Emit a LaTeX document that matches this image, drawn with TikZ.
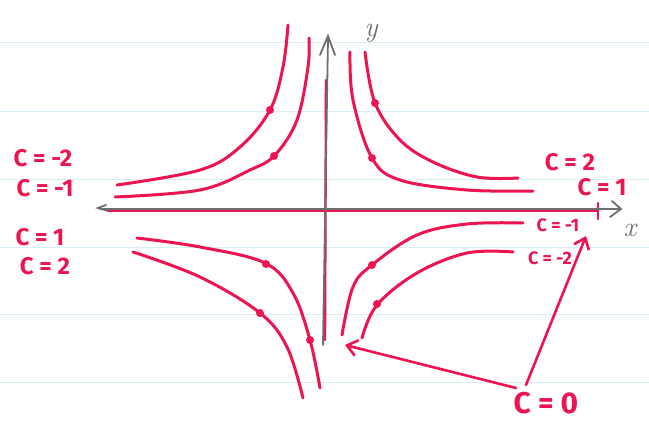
\documentclass[tikz,border=0pt]{standalone}
\usepackage{fontspec}
\setsansfont{Fira Sans}
\usetikzlibrary{arrows.meta}
\definecolor{ink}{HTML}{EC1552}
\definecolor{pencil}{HTML}{6E6E6E}
\definecolor{rule}{HTML}{D6EEF4}
\tikzset{
  curve/.style={ink, line width=3pt, line cap=round, line join=round},
  axis/.style={pencil, line width=1.8pt, line cap=round},
  dotmark/.style={circle, fill=ink, inner sep=0pt, minimum size=8pt},
  clab/.style={ink, font=\sffamily\bfseries\fontsize{24}{24}\selectfont, inner sep=0pt},
  clabs/.style={ink, font=\sffamily\bfseries\fontsize{18}{18}\selectfont, inner sep=0pt},
  axlab/.style={pencil, font=\itshape\fontsize{28}{28}\selectfont, inner sep=0pt},
  pointer/.style={ink, line width=2.6pt, line cap=round, -{Straight Barb[length=10pt, width=16pt, line width=2.6pt]}}
}
\begin{document}
\begin{tikzpicture}[x=1pt, y=-1pt]
\useasboundingbox (0,0) rectangle (649,443);
\fill[white] (0,0) rectangle (649,443);
% notebook rules
\foreach \yy in {43,112,180,248,315,383} \draw[rule, line width=1pt] (0,\yy) -- (649,\yy);

% C = 0 : the axes, inked red
\draw[curve, line width=2.4pt] (108,211) -- (598,211);
\draw[curve, line width=2.4pt] (598,203) -- (598,219);
\draw[curve, line width=2.4pt] (326,80) -- (325,340);

% axes in pencil
\draw[axis] (100,209) -- (620,209);
\draw[axis] (106,205) -- (98,208) -- (108,211);
\draw[axis] (612,201) -- (621,209) -- (610,217);
\draw[axis] (323,345) -- (328,38);
\draw[axis] (320,55) -- (328,36) -- (335,55);
\node[axlab] (xl) at (630,230) {x};
\node[axlab] (yl) at (371,33) {y};

% upper left (C = -2 outer, C = -1 inner)
\draw[curve] plot[smooth, tension=0.6] coordinates {(117,185) (200,170) (240,147) (270,110) (283,67) (288,25)};
\draw[curve] plot[smooth, tension=0.6] coordinates {(115,197) (200,190) (250,170) (275,155) (297,120) (308,67) (309,38)};
% upper right
\draw[curve] plot[smooth, tension=0.6] coordinates {(350,52) (353,100) (372,158) (400,180) (467,190) (533,191)};
\draw[curve] plot[smooth, tension=0.6] coordinates {(365,52) (375,103) (400,140) (433,162) (477,177) (518,178)};
% lower left
\draw[curve] plot[smooth, tension=0.6] coordinates {(137,238) (200,247) (265,263) (293,293) (310,340) (320,388)};
\draw[curve] plot[smooth, tension=0.6] coordinates {(133,252) (200,277) (260,313) (287,347) (303,398)};
% lower right
\draw[curve] plot[smooth, tension=0.6] coordinates {(342,335) (353,287) (372,265) (417,235) (467,224) (523,223)};
\draw[curve] plot[smooth, tension=0.6] coordinates {(362,338) (377,305) (417,273) (467,253) (513,252)};

% direction marks
\node[dotmark] (d1) at (270,110) {};
\node[dotmark] (d2) at (274,156) {};
\node[dotmark] (d3) at (372,158) {};
\node[dotmark] (d4) at (375,103) {};
\node[dotmark] (d5) at (266,264) {};
\node[dotmark] (d6) at (260,313) {};
\node[dotmark] (d7) at (310,340) {};
\node[dotmark] (d8) at (372,265) {};
\node[dotmark] (d9) at (377,304) {};

% labels
\node[clab] (lm2) at (43,158) {C = -2};
\node[clab] (lm1) at (45,188) {C = -1};
\node[clab] (lp1) at (40,237) {C = 1};
\node[clab] (lp2) at (45,266) {C = 2};
\node[clab] (rp2) at (570,162) {C = 2};
\node[clab] (rp1) at (602,187) {C = 1};
\node[clabs] (rm1) at (558,225) {C = -1};
\node[clabs] (rm2) at (550,258) {C = -2};
\node[clab, font=\sffamily\bfseries\fontsize{30}{30}\selectfont] (c0) at (546,403) {C = 0};

% pointers from C = 0
\coordinate (t1) at (345,345);
\coordinate (t2) at (586,236);
\coordinate (s1) at (516,388);
\coordinate (s2) at (526,385);
\draw[pointer] (s1) -- (t1);
\draw[pointer] (s2) -- (t2);
\end{tikzpicture}
\end{document}
